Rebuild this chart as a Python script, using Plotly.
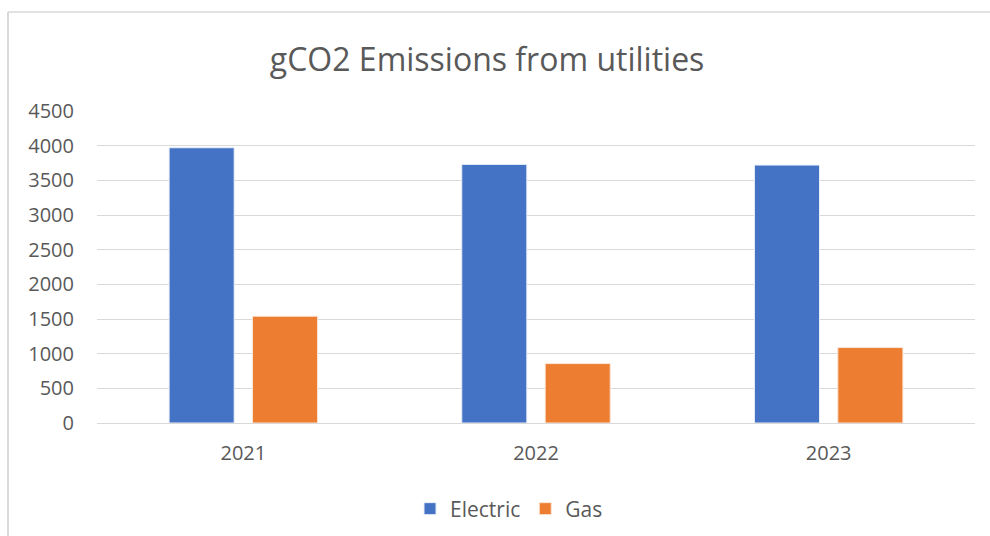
import plotly.graph_objects as go

years = ["2021", "2022", "2023"]
electric = [3970, 3730, 3720]
gas = [1540, 857, 1088]
y_ticks = [0, 500, 1000, 1500, 2000, 2500, 3000, 3500, 4000, 4500]

W, H = 990, 536
L, R, T, B = 97, 15, 111, 113
pw, ph = W - L - R, H - T - B

fig = go.Figure()
fig.add_trace(go.Bar(name="Electric", x=years, y=electric,
                     marker=dict(color="#4472C4", line=dict(color="#e8eef8", width=1))))
fig.add_trace(go.Bar(name="Gas", x=years, y=gas,
                     marker=dict(color="#ED7D31", line=dict(color="#fbe5d6", width=1))))

font_family = "Open Sans, Lato, sans-serif"

def px_x(x):
    return (x - L) / pw

def px_y(y):
    return 1 - (y - T) / ph

fig.update_layout(
    width=W, height=H,
    margin=dict(l=L, r=R, t=T, b=B, autoexpand=False),
    paper_bgcolor="white", plot_bgcolor="white",
    barmode="group", bargap=0.43, bargroupgap=0.22,
    title=dict(text="gCO2 Emissions from utilities", x=0.492, xanchor="center",
               y=1 - 60 / H, yanchor="middle",
               font=dict(family=font_family, size=32, color="#595959")),
    font=dict(family=font_family, size=20, color="#595959"),
    legend=dict(orientation="h", x=px_x(509), xanchor="center", y=px_y(509), yanchor="middle",
                font=dict(size=21, color="#595959"), traceorder="normal",
                itemwidth=30),
    showlegend=True,
    shapes=[dict(type="line", xref="paper", yref="paper",
                 x0=px_x(8), x1=px_x(W + 5), y0=px_y(12), y1=px_y(12),
                 line=dict(color="#d9d9d9", width=1.5), layer="below"),
            dict(type="line", xref="paper", yref="paper",
                 x0=px_x(8), x1=px_x(8), y0=px_y(12), y1=px_y(H + 5),
                 line=dict(color="#d9d9d9", width=2), layer="below")],
)
fig.update_xaxes(showgrid=False, showline=False, ticks="",
                 tickfont=dict(size=20, color="#595959"), ticklabelstandoff=16)
fig.update_yaxes(range=[0, 4500], tickvals=y_ticks, showgrid=True, gridcolor="#d9d9d9",
                 gridwidth=1, zeroline=True, zerolinecolor="#d9d9d9", zerolinewidth=1,
                 showline=False, ticks="", tickfont=dict(size=20, color="#595959"),
                 ticklabelstandoff=22)

fig.write_html("out.html", config={"displayModeBar": False},
               post_script="document.body.style.margin='0';document.body.style.overflow='hidden';")
